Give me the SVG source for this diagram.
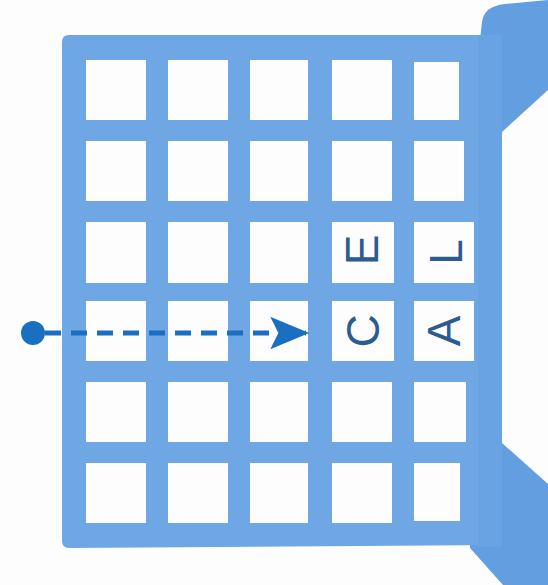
<svg xmlns="http://www.w3.org/2000/svg" width="548" height="585" viewBox="0 0 548 585">
<style>
.tray{fill:#6fa7e4}
.flap{fill:#639fe0}
.cell{fill:#fdfdfd}
.lt{font-family:"Liberation Sans",Arial,sans-serif;font-size:46px;fill:#2c5b90;text-anchor:middle;dominant-baseline:central}
.conn{stroke:#1a6fc1;stroke-width:5;fill:none;stroke-dasharray:16 10}
</style>
<defs>
<marker id="ah" viewBox="0 0 12 10" refX="11" refY="5" markerWidth="8" markerHeight="6.5" markerUnits="strokeWidth" orient="auto">
<path d="M0,0 L12,5 L0,10 L2.5,5 Z" fill="#1a6fc1"/>
</marker>
</defs>
<rect width="548" height="585" fill="#fdfdfd"/>
<g id="tray">
<path class="flap" d="M480,40 L482,22 Q484,6 505,4 L548,0 L548,90 L502,132 L502,443 L548,484 L548,585 L503,585 L470,548 Z"/>
<path class="tray" d="M62,42 Q62,35 69,35 L480,35 L502,40 L502,545 L69,548 Q62,548 62,541 Z"/>
<rect x="478" y="35" width="24" height="512" fill="#6aa3e3"/>
</g>
<g id="cells">
<rect class="cell" x="86" y="60" width="60" height="60"/>
<rect class="cell" x="168" y="60" width="60" height="60"/>
<rect class="cell" x="250" y="60" width="58" height="60"/>
<rect class="cell" x="332" y="60" width="60" height="60"/>
<rect class="cell" x="414" y="62" width="45" height="58"/>
<rect class="cell" x="86" y="141" width="60" height="60"/>
<rect class="cell" x="168" y="141" width="60" height="60"/>
<rect class="cell" x="250" y="141" width="58" height="60"/>
<rect class="cell" x="332" y="141" width="60" height="60"/>
<rect class="cell" x="414" y="141" width="50" height="60"/>
<rect class="cell" x="86" y="222" width="60" height="61"/>
<rect class="cell" x="168" y="222" width="60" height="61"/>
<rect class="cell" x="250" y="222" width="58" height="61"/>
<rect class="cell" x="332" y="222" width="62" height="61"/>
<rect class="cell" x="414" y="222" width="60" height="61"/>
<rect class="cell" x="86" y="301" width="60" height="60"/>
<rect class="cell" x="168" y="301" width="60" height="60"/>
<rect class="cell" x="250" y="301" width="58" height="60"/>
<rect class="cell" x="332" y="301" width="62" height="60"/>
<rect class="cell" x="414" y="301" width="60" height="60"/>
<rect class="cell" x="86" y="382" width="60" height="60"/>
<rect class="cell" x="168" y="382" width="60" height="60"/>
<rect class="cell" x="250" y="382" width="58" height="60"/>
<rect class="cell" x="332" y="382" width="60" height="60"/>
<rect class="cell" x="414" y="382" width="52" height="60"/>
<rect class="cell" x="86" y="463" width="60" height="60"/>
<rect class="cell" x="168" y="463" width="60" height="60"/>
<rect class="cell" x="250" y="463" width="58" height="60"/>
<rect class="cell" x="332" y="463" width="60" height="60"/>
<rect class="cell" x="414" y="463" width="46" height="58"/>
</g>
<g id="letters">
<text class="lt" transform="translate(362,250) rotate(-90)">E</text>
<text class="lt" transform="translate(446,252) rotate(-90)">L</text>
<text class="lt" transform="translate(363,331) rotate(-90)">C</text>
<text class="lt" transform="translate(444,331) rotate(-90)">A</text>
</g>
<g id="connectors">
<circle cx="33" cy="333" r="12" fill="#1a6fc1"/>
<path class="conn" d="M45,333 L306,333" marker-end="url(#ah)"/>
</g>
</svg>
